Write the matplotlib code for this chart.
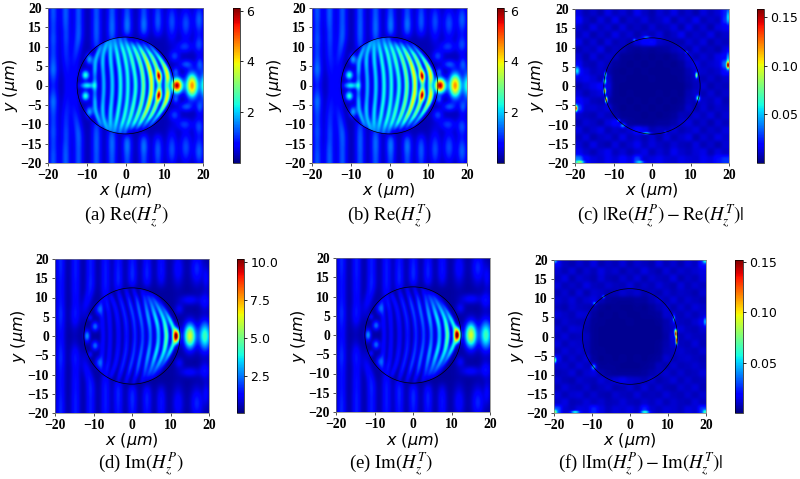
import numpy as np
import matplotlib
matplotlib.use("Agg")
import matplotlib.pyplot as plt
from matplotlib.patches import Circle

W, H = 800, 479
N = 336
RADIUS = 12.5
ROWS_OUT = [0, 2, 4, 6, 8, 10, 12, 14, 16, 18, 20]
ROWS_IN = [0, 2, 4, 6, 8, 10, 12]

# |y| rows above: crest position of each fringe, then its height
re_in_x = [
    [-8.0, -8.0, -8.0, -7.9, -7.4, -6.6, -6.0],
    [-5.7, -5.75, -5.9, -6.0, -5.9, -5.3, -4.8],
    [-3.5, -3.55, -3.7, -3.9, -4.0, -4.0, -3.9],
    [-1.4, -1.45, -1.6, -1.9, -2.2, -2.6, -2.9],
    [0.5, 0.45, 0.3, 0.0, -0.4, -1.0, -1.6],
    [2.5, 2.4, 2.1, 1.7, 1.2, 0.5, -0.3],
    [4.5, 4.4, 4.1, 3.6, 2.9, 2.0, 1.0],
    [6.6, 6.5, 6.1, 5.5, 4.6, 3.5, 2.4],
    [8.6, 8.5, 8.1, 7.4, 6.4, 5.0, 3.8],
    [10.4, 10.8, 10.4, 9.4, 8.1, 6.5, 5.0],
]
re_in_amp = [
    [1.8, 1.0, 1.6, 1.5, 1.6, 1.3, 0.0],
    [1.5, 1.5, 1.5, 1.7, 1.6, 1.6, 1.0],
    [1.7, 1.7, 1.7, 1.8, 1.8, 1.7, 0.8],
    [2.0, 2.0, 2.0, 2.0, 2.0, 1.8, 1.0],
    [2.0, 2.0, 2.0, 2.1, 2.1, 2.0, 1.0],
    [2.1, 2.1, 2.1, 2.3, 2.2, 2.0, 0.8],
    [2.6, 2.6, 2.6, 2.6, 2.4, 2.0, 0.0],
    [3.4, 3.6, 3.6, 3.3, 2.8, 1.8, 0.0],
    [1.8, 4.0, 2.8, 2.8, 2.4, 1.2, 0.0],
    [1.8, 3.8, 3.6, 2.5, 1.7, 1.0, 0.0],
]
re_out_x = [
    [-18.7] * 11,
    [-15.0, -15.0, -15.2, -15.3, -15.4, -15.4, -15.4, -15.4, -15.5, -15.5, -15.5],
    [-13.2, -13.2, -13.2, -13.2, -12.9, -12.6, -12.3, -12.2, -12.2, -12.2, -12.2],
    [-7.6] * 11,
    [-3.6] * 11,
    [0.3] * 11,
    [4.6] * 11,
    [8.2] * 11,
]
re_out_amp = [
    [0.6, 0.85, 1.2, 1.0, 0.85, 0.85, 0.95, 0.85, 0.85, 0.95, 0.95],
    [0.4, 0.4, 0.5, 0.6, 0.7, 0.75, 0.85, 0.85, 0.95, 1.0, 1.0],
    [0.25, 0.35, 0.4, 0.5, 0.7, 0.85, 1.0, 1.0, 0.95, 0.95, 0.95],
    [0.0, 0.0, 0.0, 0.0, 0.0, 0.75, 0.95, 1.0, 1.0, 0.95, 0.95],
    [0.0, 0.0, 0.0, 0.0, 0.0, 0.0, 0.85, 1.1, 1.1, 1.0, 0.95],
    [0.0, 0.0, 0.0, 0.0, 0.0, 0.0, 0.0, 1.1, 1.2, 1.0, 0.85],
    [0.0, 0.0, 0.0, 0.0, 0.0, 0.0, 0.0, 1.0, 1.2, 0.95, 0.85],
    [0.0, 0.0, 0.0, 0.0, 0.0, 0.0, 0.0, 0.7, 1.0, 0.95, 0.75],
]
# x, |y|, height, x spread, y spread
re_spots = [
    (13.1, 0, 5.6, 0.95, 1.25), (17.0, 0, 4.3, 1.05, 2.1), (20.2, 0, 2.2, 0.8, 2.4),
    (8.5, 2.6, 2.2, 0.55, 0.9), (-10.0, 0, 1.9, 1.2, 0.6), (-10.4, 2.7, 2.1, 0.7, 0.85),
    (-9.4, 6.8, 1.4, 0.65, 1.0), (15.4, 16, 0.9, 1.0, 2.8), (18.8, 17, 1.0, 0.9, 2.8),
    (11.8, 16.5, 0.9, 0.9, 3.2), (15, 10, 0.7, 1.4, 1.0), (18.8, 10.5, 0.8, 0.9, 1.6),
    (12.5, 7.6, 0.8, 0.9, 1.0), (15.5, 5.5, 0.9, 1.2, 0.8), (19, 5.5, 0.9, 0.7, 1.3),
    (12.8, 3.6, 0.9, 0.6, 0.8),
]

im_in_x = [
    [-7.5, -7.6, -7.7, -7.9, -8.0, -8.0, -7.5],
    [-5.7, -5.75, -5.85, -6.0, -6.4, -6.8, -7.0],
    [-3.5, -3.55, -3.7, -4.0, -4.5, -5.3, -5.8],
    [-1.4, -1.45, -1.6, -2.0, -2.5, -3.1, -3.7],
    [0.8, 0.7, 0.5, 0.1, -0.4, -0.9, -1.6],
    [2.8, 2.7, 2.4, 2.0, 1.6, 1.2, 0.4],
    [4.8, 4.7, 4.4, 4.0, 3.6, 3.2, 2.5],
    [6.9, 6.8, 6.4, 5.8, 5.2, 4.4, 3.5],
    [9.0, 8.8, 8.4, 7.6, 6.6, 5.5, 4.5],
    [11.2, 10.8, 10.0, 9.0, 7.8, 6.5, 5.5],
]
im_in_amp = [
    [0.9, 0.9, 1.0, 1.1, 1.2, 0.6, 0.0],
    [0.9, 0.9, 1.0, 1.0, 1.2, 1.0, 0.0],
    [1.0, 1.0, 1.1, 1.1, 1.1, 1.0, 0.0],
    [1.1, 1.2, 1.3, 1.3, 1.3, 1.1, 0.5],
    [1.3, 1.4, 1.5, 1.6, 1.6, 1.2, 0.6],
    [1.6, 1.7, 1.9, 2.0, 1.9, 1.3, 0.6],
    [2.0, 2.2, 2.6, 2.5, 2.0, 1.3, 0.5],
    [2.8, 3.0, 3.4, 3.0, 2.2, 1.4, 0.0],
    [4.4, 4.2, 3.5, 3.0, 2.2, 1.2, 0.0],
    [0.0, 3.5, 3.5, 2.2, 1.2, 0.5, 0.0],
]
im_out_x = [
    [-18.6] * 11,
    [-14.9, -14.9, -14.8, -14.8, -14.7, -14.7, -14.7, -14.7, -14.7, -14.7, -14.7],
    [-12.6, -12.6, -12.5, -12.4, -12.0, -11.4, -10.9, -10.8, -10.8, -10.8, -10.8],
    [-6.9] * 11,
    [-3.6] * 11,
    [0.1] * 11,
    [3.9] * 11,
    [7.6] * 11,
]
im_out_amp = [
    [1.0, 1.1, 1.3, 1.4, 1.2, 1.1, 1.1, 1.1, 1.2, 1.3, 1.3],
    [0.2, 0.4, 1.0, 1.2, 1.0, 1.0, 1.1, 1.1, 1.2, 1.2, 1.2],
    [0.0, 0.0, 0.2, 0.5, 0.85, 1.0, 1.2, 1.3, 1.2, 1.2, 1.2],
    [0.0, 0.0, 0.0, 0.0, 0.0, 0.7, 1.1, 1.2, 1.2, 1.2, 1.1],
    [0.0, 0.0, 0.0, 0.0, 0.0, 0.0, 0.85, 1.3, 1.3, 1.2, 1.1],
    [0.0, 0.0, 0.0, 0.0, 0.0, 0.0, 0.0, 1.2, 1.4, 1.3, 1.1],
    [0.0, 0.0, 0.0, 0.0, 0.0, 0.0, 0.0, 1.0, 1.3, 1.2, 1.0],
    [0.0, 0.0, 0.0, 0.0, 0.0, 0.0, 0.0, 0.7, 1.1, 1.1, 1.0],
]
im_spots = [
    (11.5, 0, 9.9, 0.6, 1.15), (15.1, 0, 5.9, 1.05, 2.2), (19.0, 0, 4.0, 1.1, 2.6),
    (-11.7, 0, 2.4, 0.55, 1.05), (-9.6, 2.5, 2.0, 0.65, 0.85), (-8.7, 6.9, 1.4, 0.65, 1.0),
    (-10.9, 4.8, 0.9, 0.45, 0.6), (16.9, 17.5, 1.3, 1.1, 2.8), (12.0, 17.5, 1.0, 1.0, 3.0),
    (15.0, 9.4, 0.9, 1.8, 0.9), (19, 9, 1.0, 0.9, 1.5), (12.3, 7.0, 0.8, 0.8, 1.0),
    (19.3, 15, 0.8, 0.6, 2.2),
]

# coarse floor of the error maps in units of 0.001, top row first
re_floor = [
    [14, 9, 12, 8, 15, 10, 13, 9, 16, 11, 8, 13, 10, 15, 9, 12, 8, 14, 10, 13, 22],
    [18, 11, 8, 14, 9, 16, 8, 12, 10, 14, 9, 11, 15, 8, 13, 10, 16, 9, 12, 10, 24],
    [12, 9, 15, 10, 13, 8, 14, 9, 11, 8, 13, 9, 10, 14, 8, 15, 9, 13, 8, 14, 16],
    [10, 14, 8, 12, 9, 15, 10, 13, 8, 12, 9, 14, 8, 11, 16, 9, 12, 10, 15, 9, 12],
    [15, 9, 13, 8, 14, 9, 11, 8, 14, 18, 20, 12, 10, 9, 8, 13, 10, 14, 8, 12, 10],
    [9, 12, 10, 15, 8, 11, 9, 6, 5, 6, 5, 6, 7, 10, 12, 8, 14, 9, 11, 8, 14],
    [13, 8, 14, 9, 12, 10, 5, 5, 4, 5, 4, 5, 4, 6, 9, 14, 9, 13, 10, 15, 18],
    [16, 10, 9, 13, 10, 6, 5, 4, 5, 4, 5, 4, 5, 4, 6, 12, 15, 10, 12, 14, 30],
    [20, 14, 10, 12, 8, 5, 4, 5, 4, 5, 4, 4, 4, 5, 5, 9, 13, 12, 10, 12, 20],
    [14, 16, 13, 9, 12, 5, 5, 4, 4, 4, 5, 4, 4, 4, 5, 8, 11, 9, 12, 9, 12],
    [9, 12, 15, 18, 14, 5, 4, 4, 4, 4, 4, 4, 4, 4, 4, 7, 10, 13, 8, 11, 10],
    [13, 9, 12, 14, 12, 5, 4, 5, 4, 4, 4, 5, 4, 5, 4, 9, 12, 9, 13, 9, 12],
    [18, 14, 10, 9, 8, 5, 5, 4, 5, 4, 5, 4, 5, 4, 5, 10, 9, 12, 10, 14, 9],
    [26, 12, 13, 11, 14, 6, 4, 5, 4, 5, 4, 5, 4, 5, 6, 12, 8, 13, 9, 12, 11],
    [12, 10, 9, 13, 10, 8, 5, 5, 5, 4, 5, 4, 5, 6, 10, 9, 13, 10, 14, 9, 13],
    [9, 13, 11, 8, 14, 18, 9, 6, 5, 5, 5, 6, 6, 8, 12, 14, 9, 12, 8, 13, 10],
    [14, 9, 12, 15, 9, 12, 10, 13, 20, 16, 9, 11, 10, 13, 9, 11, 14, 9, 12, 10, 14],
    [10, 14, 8, 11, 13, 9, 15, 10, 12, 9, 13, 8, 14, 9, 12, 15, 8, 13, 10, 15, 12],
    [13, 9, 15, 10, 8, 14, 9, 12, 16, 10, 14, 11, 9, 13, 10, 9, 14, 9, 12, 8, 13],
    [16, 12, 9, 13, 16, 10, 13, 9, 12, 15, 9, 13, 10, 16, 12, 10, 13, 15, 9, 14, 11],
    [32, 18, 14, 12, 16, 13, 18, 14, 26, 12, 14, 16, 13, 12, 15, 13, 12, 16, 14, 20, 24],
]
im_floor = [
    [16, 10, 8, 12, 9, 14, 8, 11, 9, 13, 8, 12, 10, 8, 14, 9, 12, 8, 13, 10, 20],
    [12, 9, 13, 8, 12, 9, 14, 10, 12, 8, 11, 9, 14, 10, 8, 13, 9, 12, 10, 12, 14],
    [10, 14, 8, 12, 10, 8, 13, 9, 8, 12, 9, 13, 8, 12, 10, 9, 14, 8, 11, 9, 13],
    [13, 9, 11, 9, 14, 10, 9, 12, 10, 9, 13, 8, 11, 9, 13, 10, 8, 13, 9, 12, 10],
    [9, 12, 8, 13, 8, 12, 11, 8, 9, 12, 10, 12, 8, 10, 8, 12, 9, 11, 10, 8, 12],
    [12, 10, 13, 9, 12, 14, 9, 6, 5, 5, 5, 6, 6, 9, 12, 9, 13, 9, 12, 10, 9],
    [10, 8, 12, 10, 9, 8, 5, 4, 5, 4, 4, 5, 4, 6, 9, 12, 8, 12, 9, 13, 11],
    [13, 11, 9, 13, 12, 6, 4, 5, 4, 5, 4, 4, 5, 5, 6, 12, 11, 9, 12, 9, 12],
    [9, 12, 10, 9, 9, 5, 5, 4, 4, 4, 5, 4, 4, 4, 5, 8, 12, 10, 9, 12, 16],
    [12, 9, 13, 12, 8, 5, 4, 4, 4, 4, 4, 4, 4, 4, 4, 8, 10, 13, 10, 9, 12],
    [10, 13, 9, 10, 10, 5, 4, 4, 4, 4, 4, 4, 4, 4, 4, 7, 14, 9, 12, 10, 10],
    [13, 9, 12, 11, 9, 5, 4, 4, 4, 4, 4, 4, 4, 4, 5, 8, 12, 10, 9, 13, 9],
    [9, 13, 10, 12, 9, 5, 5, 4, 4, 4, 4, 4, 4, 4, 5, 9, 10, 12, 10, 9, 12],
    [16, 9, 12, 9, 13, 6, 4, 5, 4, 5, 4, 5, 4, 5, 6, 12, 9, 11, 12, 10, 9],
    [11, 12, 9, 13, 10, 9, 5, 5, 5, 4, 4, 4, 5, 6, 10, 8, 12, 9, 10, 12, 10],
    [9, 10, 13, 8, 12, 14, 8, 6, 5, 5, 5, 5, 6, 8, 10, 12, 9, 12, 9, 10, 13],
    [12, 9, 8, 12, 10, 9, 13, 10, 13, 15, 12, 11, 9, 12, 8, 10, 13, 9, 12, 9, 10],
    [9, 13, 10, 9, 12, 8, 10, 12, 8, 9, 12, 8, 13, 9, 12, 9, 8, 12, 10, 13, 9],
    [13, 9, 12, 13, 9, 12, 9, 8, 12, 10, 9, 13, 9, 10, 9, 13, 10, 9, 12, 9, 12],
    [11, 14, 9, 10, 13, 10, 12, 9, 10, 13, 10, 9, 12, 10, 13, 9, 12, 10, 9, 13, 10],
    [26, 12, 10, 14, 13, 22, 14, 10, 13, 12, 14, 11, 22, 12, 10, 13, 12, 10, 14, 12, 24],
]
# x, y, height, x spread, y spread
re_hot = [
    (-12.3, 1.3, 0.06, 0.26, 0.55), (-12.3, -1.3, 0.11, 0.2, 0.5), (-11.9, -3.6, 0.13, 0.2, 0.5),
    (-12.1, 3.0, 0.06, 0.2, 0.5), (11.6, 2.8, 0.08, 0.2, 0.5), (12.0, -3.2, 0.06, 0.35, 0.5),
    (-7.6, -10.3, 0.035, 0.5, 0.4), (-1.4, -12.3, 0.045, 0.75, 0.2), (-1.4, 12.7, 0.025, 0.65, 0.25),
    (19.8, 5.4, 0.13, 0.25, 0.6), (19.8, 7, 0.03, 0.25, 1.2), (-19.8, -5.8, 0.12, 0.25, 0.5),
    (-19.5, 4, 0.035, 0.4, 0.75), (-18.8, -19.8, 0.05, 0.75, 0.25), (-3, -19.8, 0.03, 0.75, 0.25),
    (-4.6, 12.0, 0.03, 0.25, 0.25), (-8.7, -9.0, 0.03, 0.25, 0.25), (19.8, 18, 0.03, 0.25, 1.2),
    (9.0, 8.8, 0.03, 0.25, 0.25), (3.5, -12.0, 0.02, 0.25, 0.25),
]
im_hot = [
    (12.1, 1.4, 0.07, 0.28, 0.45), (12.1, 0.6, 0.13, 0.17, 0.45), (12.3, -1.0, 0.14, 0.17, 0.75),
    (11.6, 4.7, 0.04, 0.2, 0.65), (-9.6, -8.0, 0.04, 0.4, 0.5), (-9.4, 8.7, 0.03, 0.3, 0.3),
    (-7.0, 10.4, 0.035, 0.25, 0.3), (-19.8, -6.2, 0.06, 0.25, 0.5), (-14.5, -19.8, 0.05, 0.75, 0.25),
    (4.0, -19.8, 0.04, 0.75, 0.25), (-19.8, -19.8, 0.05, 0.4, 0.4), (19.8, 3.9, 0.03, 0.25, 0.75),
    (19.8, 19.8, 0.04, 0.4, 0.4), (-19.8, 19.8, 0.03, 0.4, 0.4), (19.8, -19.8, 0.04, 0.4, 0.4),
]

xs = np.linspace(-20, 20, N)
X, Y = np.meshgrid(xs, xs)
R = np.hypot(X, Y)
INSIDE = np.clip((RADIUS - R) / 0.5 + 0.5, 0, 1)


def soften(field, sigma):
    """Gaussian smoothing in grid units, edge-padded."""
    pad = int(4 * sigma) + 1
    f = np.pad(field, pad, mode="edge")
    kx = np.fft.fftfreq(f.shape[1])
    ky = np.fft.fftfreq(f.shape[0])
    g = np.exp(-2 * (np.pi * sigma) ** 2 * (kx[None, :] ** 2 + ky[:, None] ** 2))
    out = np.fft.ifft2(np.fft.fft2(f) * g).real
    return out[pad:-pad, pad:-pad]


def fringes(rows, cx, amp, width):
    out = np.zeros((N, N))
    ya = np.abs(xs)
    kernel = np.exp(-0.5 * (np.arange(-25, 26) * (xs[1] - xs[0]) / 0.7) ** 2)
    kernel /= kernel.sum()
    for c, a in zip(cx, amp):
        cy = np.convolve(np.pad(np.interp(ya, rows, c), 25, mode="edge"), kernel, "valid")
        ay = np.convolve(np.pad(np.interp(ya, rows, a), 25, mode="edge"), kernel, "valid")
        out += ay[:, None] * np.exp(-0.5 * ((X - cy[:, None]) / width) ** 2)
    return out


def spots(table, mirror):
    out = np.zeros((N, N))
    for x0, y0, a, sx, sy in table:
        out += a * np.exp(-0.5 * ((X - x0) / sx) ** 2 - 0.5 * ((Y - y0) / sy) ** 2)
        if mirror and y0 != 0:
            out += a * np.exp(-0.5 * ((X - x0) / sx) ** 2 - 0.5 * ((Y + y0) / sy) ** 2)
    return out


def magnitude(in_x, in_amp, out_x, out_amp, table, floor):
    inner = fringes(ROWS_IN, in_x, in_amp, 0.5)
    outer = fringes(ROWS_OUT, out_x, out_amp, 0.85)
    return floor + inner * INSIDE + outer * (1 - INSIDE) + spots(table, True)


def error_map(grid, table):
    coarse = 3.5 * (np.array(grid, dtype=float)[::-1] / 1000) ** 1.3
    fine = soften(np.repeat(np.repeat(coarse, 16, 0), 16, 1), 3.5)
    return fine + spots(table, False)


field_re = magnitude(re_in_x, re_in_amp, re_out_x, re_out_amp, re_spots, 0.3)
field_im = magnitude(im_in_x, im_in_amp, im_out_x, im_out_amp, im_spots, 0.35)
field_re_err = error_map(re_floor, re_hot)
field_im_err = error_map(im_floor, im_hot)

serif = "Liberation Serif"
plt.rcParams["mathtext.fontset"] = "dejavusans"
fig = plt.figure(figsize=(W / 100, H / 100), dpi=100)


def box(l, t, r, b):
    return [l / W, 1 - b / H, (r - l) / W, (b - t) / H]


panels = [
    dict(field=field_re, vmin=0, vmax=6.1, ax=(48, 8, 203, 163), cb=(233, 240),
         ticks=[2, 4, 6], fmt="%d", xl=(126, 191), yl=(11, 85), cap=(126, 216),
         text=r"(a) $\mathrm{Re}(H_z^P)$"),
    dict(field=field_re, vmin=0, vmax=6.1, ax=(312, 8, 467, 163), cb=(497, 504),
         ticks=[2, 4, 6], fmt="%d", xl=(389, 191), yl=(275, 85), cap=(389, 216),
         text=r"(b) $\mathrm{Re}(H_z^T)$"),
    dict(field=field_re_err, vmin=0, vmax=0.158, ax=(575, 9, 729, 163), cb=(757, 764),
         ticks=[0.05, 0.10, 0.15], fmt="%.2f", xl=(652, 191), yl=(537, 85), cap=(661, 216),
         text=r"(c) $|\mathrm{Re}(H_z^P)-\mathrm{Re}(H_z^T)|$"),
    dict(field=field_im, vmin=0.05, vmax=10.2, ax=(55, 259, 209, 413), cb=(237, 244),
         ticks=[2.5, 5.0, 7.5, 10.0], fmt="%.1f", xl=(132, 441), yl=(18, 336), cap=(141, 464),
         text=r"(d) $\mathrm{Im}(H_z^P)$"),
    dict(field=field_im, vmin=0.05, vmax=10.2, ax=(336, 258, 490, 412), cb=None,
         ticks=None, fmt=None, xl=(413, 440), yl=(298, 336), cap=(391, 464),
         text=r"(e) $\mathrm{Im}(H_z^T)$"),
    dict(field=field_im_err, vmin=0, vmax=0.152, ax=(554, 260, 706, 413), cb=(735, 743),
         ticks=[0.05, 0.10, 0.15], fmt="%.2f", xl=(630, 441), yl=(516, 336), cap=(640, 464),
         text=r"(f) $|\mathrm{Im}(H_z^P)-\mathrm{Im}(H_z^T)|$"),
]

to_px = lambda x, y: (x / W, 1 - y / H)

for p in panels:
    l, t, r, b = p["ax"]
    ax = fig.add_axes(box(l, t, r, b))
    im = ax.imshow(p["field"], extent=(-20, 20, -20, 20), origin="lower", cmap="jet",
                   vmin=p["vmin"], vmax=p["vmax"], interpolation="bilinear", aspect="auto")
    ax.add_patch(Circle((0, 0), RADIUS, fill=False, ec="black", lw=0.5))
    ax.set_xticks(np.arange(-20, 21, 10))
    ax.set_yticks(np.arange(-20, 21, 5))
    ax.tick_params(length=2.5, width=0.6, pad=2, color="#333333")
    for lab in ax.get_xticklabels() + ax.get_yticklabels():
        lab.set_fontfamily(serif)
        lab.set_fontweight("bold")
        lab.set_fontsize(9.8)
    for s in ax.spines.values():
        s.set_linewidth(0.5)
        s.set_color("#777777")
    ax.set_xlabel(r"$x$ ($\mu m$)", fontsize=11.5, va="center")
    ax.xaxis.set_label_coords(*to_px(*p["xl"]), transform=fig.transFigure)
    ax.set_ylabel(r"$y$ ($\mu m$)", fontsize=11.5, va="center")
    ax.yaxis.set_label_coords(*to_px(*p["yl"]), transform=fig.transFigure)
    cx, cy = to_px(*p["cap"])
    fig.text(cx, cy, p["text"], ha="center", va="center", fontsize=13.5, family=serif,
             math_fontfamily="stix")
    if p["cb"]:
        cax = fig.add_axes(box(p["cb"][0], t, p["cb"][1], b))
        cbar = fig.colorbar(im, cax=cax, ticks=p["ticks"], format=p["fmt"])
        cbar.ax.tick_params(labelsize=9, length=2.5, width=0.6, pad=2)
        cbar.outline.set_linewidth(0.5)

fig.savefig("out.png", dpi=100)
